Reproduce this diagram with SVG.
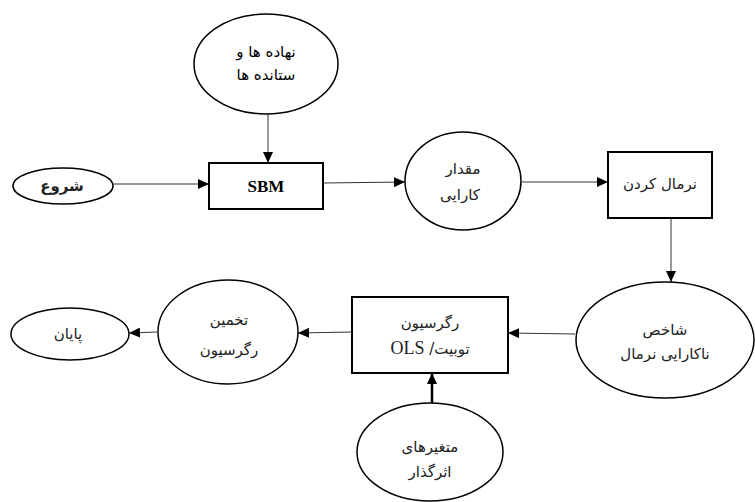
<svg xmlns="http://www.w3.org/2000/svg" width="755" height="502" viewBox="0 0 755 502">
<style>
.shape{fill:#fff;stroke:#000;stroke-width:1.5}
.box{fill:#fff;stroke:#000;stroke-width:2}
.fa{font-family:"DejaVu Sans",sans-serif;font-size:15px;fill:#222;text-anchor:middle;direction:rtl;unicode-bidi:embed}
.b{font-weight:bold}
.lat{font-family:"Liberation Serif",serif;font-size:17px;font-weight:bold;fill:#000;text-anchor:middle}
.conn line{stroke:#333;stroke-width:1;marker-end:url(#arr)}
</style>
<defs>
<marker id="arr" markerUnits="userSpaceOnUse" markerWidth="12" markerHeight="10" refX="11" refY="5" orient="auto">
<path d="M0,0 L11,5 L0,10 Z" fill="#000"/>
</marker>
</defs>
<rect width="755" height="502" fill="#fff"/>
<g class="conn">
<line x1="268" y1="114" x2="268" y2="163"/>
<line x1="113" y1="184" x2="209" y2="184"/>
<line x1="323" y1="183" x2="405" y2="182"/>
<line x1="522" y1="182" x2="608" y2="182"/>
<line x1="671" y1="218" x2="671" y2="282"/>
<line x1="575" y1="334" x2="508" y2="333"/>
<line x1="352" y1="332" x2="298" y2="333"/>
<line x1="157" y1="332" x2="129" y2="333"/>
<line x1="432" y1="403" x2="432" y2="373" style="stroke-width:2.5;stroke:#000"/>
</g>
<g id="inputs">
<ellipse class="shape" cx="266" cy="64" rx="72" ry="50"/>
<text class="fa" x="266" y="57" style="fill:#000">نهاده ها و</text>
<text class="fa" x="266" y="80" style="fill:#000">ستانده ها</text>
</g>
<g id="start">
<ellipse class="shape" cx="63" cy="186" rx="50" ry="18"/>
<text class="fa b" x="62" y="191">شروع</text>
</g>
<g id="sbm">
<rect class="box" x="209" y="163" width="114" height="46"/>
<text class="lat" x="266" y="192">SBM</text>
</g>
<g id="efficiency">
<ellipse class="shape" cx="463" cy="181" rx="58" ry="49"/>
<text class="fa" x="463" y="174">مقدار</text>
<text class="fa" x="460" y="200">کارایی</text>
</g>
<g id="normalize">
<rect class="box" x="608" y="152" width="104" height="66"/>
<text class="fa" x="660" y="189">نرمال کردن</text>
</g>
<g id="index">
<ellipse class="shape" cx="665" cy="340" rx="89" ry="58"/>
<text class="fa" x="665" y="335">شاخص</text>
<text class="fa" x="665" y="359">ناکارایی نرمال</text>
</g>
<g id="regression">
<rect class="box" x="352" y="297" width="156" height="76"/>
<text class="fa" x="430" y="328">رگرسیون</text>
<text class="fa" x="430" y="354">توبیت/ <tspan style="font-family:'Liberation Serif',serif;font-size:18px">OLS</tspan></text>
</g>
<g id="variables">
<ellipse class="shape" cx="430" cy="452" rx="73" ry="49"/>
<text class="fa" x="430" y="452">متغیرهای</text>
<text class="fa" x="430" y="477">اثرگذار</text>
</g>
<g id="estimate">
<ellipse class="shape" cx="228" cy="332" rx="70" ry="52"/>
<text class="fa" x="229" y="325">تخمین</text>
<text class="fa" x="229" y="355">رگرسیون</text>
</g>
<g id="end">
<ellipse class="shape" cx="70" cy="334" rx="59" ry="26"/>
<text class="fa" x="68" y="339">پایان</text>
</g>
</svg>
